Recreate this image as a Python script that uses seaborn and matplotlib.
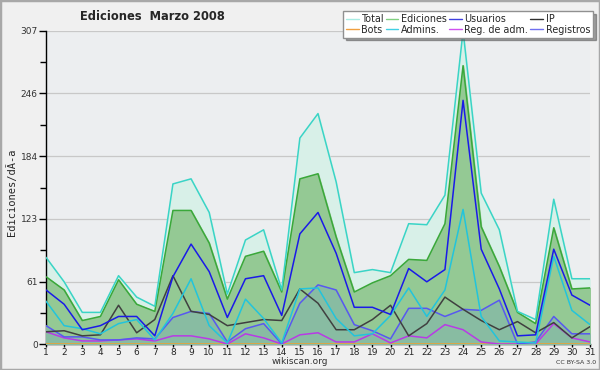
import numpy as np
import pandas as pd
import matplotlib
matplotlib.use("Agg")
import matplotlib.pyplot as plt
import seaborn as sns
from matplotlib.patches import Rectangle

# Datos (ediciones por dia, marzo 2008)
days = list(range(1, 32))
total = [85, 61, 31, 31, 67, 46, 37, 157, 162, 129, 49, 102, 112, 53, 202, 226,
         159, 70, 73, 70, 118, 117, 146, 307, 148, 112, 32, 24, 142, 64, 64]
ediciones = [66, 53, 23, 27, 63, 39, 32, 131, 131, 99, 44, 86, 91, 51, 162, 167,
             105, 51, 60, 67, 83, 82, 118, 273, 115, 76, 31, 20, 114, 54, 55]
usuarios = [53, 39, 14, 18, 27, 27, 8, 66, 98, 71, 26, 64, 67, 28, 108, 129,
            89, 36, 36, 29, 74, 61, 73, 239, 93, 54, 8, 9, 93, 48, 38]
ip = [12, 13, 8, 9, 38, 11, 24, 67, 32, 29, 18, 21, 24, 23, 54, 40,
      14, 14, 24, 38, 8, 20, 46, 34, 23, 14, 22, 11, 21, 6, 17]
bots = [0] * 31
admins = [42, 18, 15, 10, 20, 24, 4, 30, 64, 18, 1, 44, 25, 1, 54, 55,
          25, 8, 10, 28, 55, 27, 53, 132, 27, 3, 2, 1, 86, 33, 19]
reg_adm = [12, 6, 3, 3, 4, 5, 3, 8, 8, 5, 0, 10, 6, 0, 9, 11,
           2, 2, 10, 1, 8, 6, 19, 14, 2, 0, 0, 0, 20, 6, 2]
registros = [18, 7, 7, 4, 4, 6, 5, 26, 32, 30, 2, 15, 20, 0, 40, 58,
             53, 19, 13, 5, 35, 35, 27, 34, 33, 43, 0, 2, 27, 10, 10]

yticks = [0, 61, 123, 184, 246, 307]

df = pd.DataFrame({"dia": days, "Total": total, "Ediciones": ediciones,
                   "Usuarios": usuarios, "IP": ip, "Bots": bots,
                   "Admins.": admins, "Reg. de adm.": reg_adm,
                   "Registros": registros})

sns.set_style("white")
plt.rcParams['font.family'] = ['DejaVu Sans']

fig = plt.figure(figsize=(6, 3.7), dpi=100, facecolor='#f0f0f0')
fig.patches.append(Rectangle((0, 0), 1, 1, transform=fig.transFigure,
                             fill=False, edgecolor='#a8a8a8', lw=2.5))
ax = fig.add_axes([46 / 600, 1 - 344 / 370, 544 / 600, 313 / 370])
ax.set_facecolor('#eceef0')

# areas
ax.fill_between(df["dia"], df["Total"], color='#d8f0e8', zorder=1)
ax.fill_between(df["dia"], df["Ediciones"], color='#94c994', zorder=2)
ax.fill_between(df["dia"], df["Registros"], color='#88bca2', zorder=3)

colors = {"Total": '#3ad4c6', "Bots": '#f0a030', "Ediciones": '#3aa83a',
          "Admins.": '#22c4dc', "Usuarios": '#1a1ae8', "Reg. de adm.": '#b83ae6',
          "IP": '#404040', "Registros": '#5858f0'}
leg_colors = {"Total": '#a8ece4', "Bots": '#f0a040', "Ediciones": '#80d080',
              "Admins.": '#40d0e4', "Usuarios": '#4040e0', "Reg. de adm.": '#d050f0',
              "IP": '#303030', "Registros": '#7070f0'}

draw_order = ["Bots", "Reg. de adm.", "Registros", "IP", "Admins.", "Usuarios",
              "Ediciones", "Total"]
for i, name in enumerate(draw_order):
    sns.lineplot(data=df, x="dia", y=name, color=colors[name], lw=1.1, ax=ax,
                 zorder=5 + i)

ax.set_xlim(1, 31)
ax.set_ylim(0, 307)
ax.set_xticks(days)
ax.set_xticklabels([str(d) for d in days], fontsize=6.5)
ax.set_yticks(yticks)
ax.set_yticklabels([str(v) for v in yticks], fontsize=6.5, color='#333333')
ax.set_yticks([(a + b) / 2 for a, b in zip(yticks[:-1], yticks[1:])], minor=True)
ax.tick_params(axis='y', direction='out', length=5, width=1, color='black',
               pad=1, left=True)
ax.tick_params(axis='x', direction='out', length=2.5, width=1, color='black',
               pad=0.5, bottom=True)
ax.tick_params(axis='y', which='minor', direction='out', length=4, width=1,
               color='black', left=True)
ax.yaxis.grid(True, color='#c8c8c8', lw=0.9)
ax.set_axisbelow(True)
for s in ['top', 'right']:
    ax.spines[s].set_visible(False)
for s in ['left', 'bottom']:
    ax.spines[s].set_color('black')
    ax.spines[s].set_linewidth(1)
ax.set_xlabel("")
ax.set_ylabel("")

fig.text(152 / 600, 1 - 17 / 370, "Ediciones  Marzo 2008", ha='center',
         va='center', fontsize=8.3, fontweight='bold')
fig.text(12 / 600, 1 - 192 / 370, "Ediciones/dÃ-a", rotation=90, ha='center',
         va='center', fontsize=7.5, family='DejaVu Sans Mono')
fig.text(300 / 600, 1 - 362 / 370, "wikiscan.org", ha='center', va='center',
         fontsize=6.5, color='#333333')
fig.text(576 / 600, 1 - 363 / 370, "CC BY-SA 3.0", ha='center', va='center',
         fontsize=4.5, color='#333333')

# leyenda (orden por columnas)
leg_names = ["Total", "Bots", "Ediciones", "Admins.", "Usuarios",
             "Reg. de adm.", "IP", "Registros"]
handles = [plt.Line2D([], [], color=leg_colors[n], lw=1) for n in leg_names]
leg = fig.legend(handles, leg_names, ncol=4, loc='upper right',
                 bbox_to_anchor=(593 / 600, 1 - 11 / 370), fontsize=6.9,
                 frameon=True, fancybox=False, shadow=True, handlelength=1.3,
                 handletextpad=0.3, columnspacing=0.2, labelspacing=0.1,
                 borderpad=0.3, borderaxespad=0)
leg.get_frame().set_edgecolor('#909090')
leg.get_frame().set_facecolor('white')
leg.set_zorder(20)

fig.savefig("out.png", dpi=100, facecolor=fig.get_facecolor())
